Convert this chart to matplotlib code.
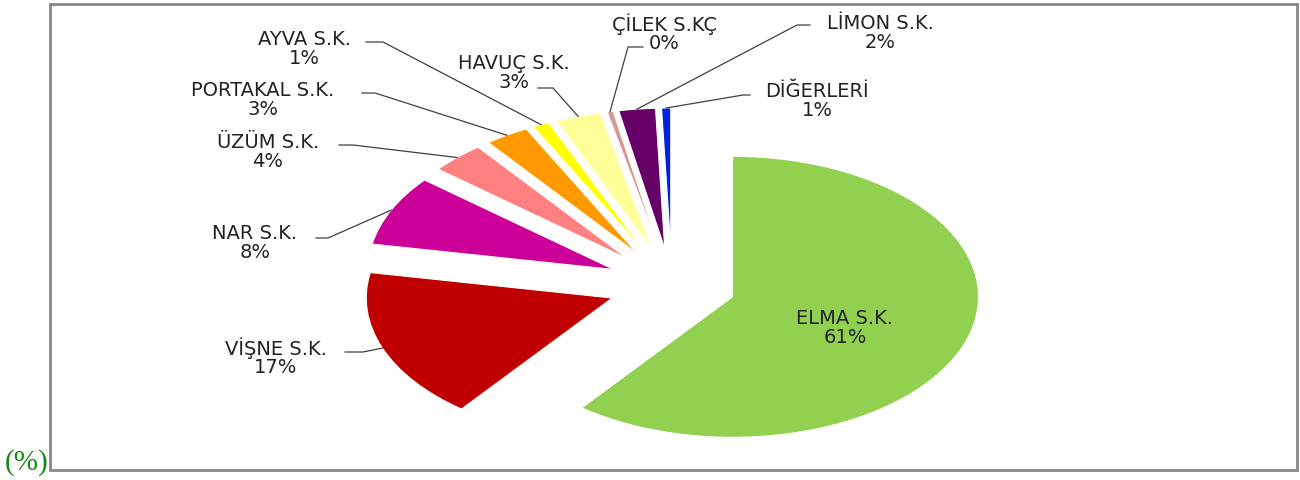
import matplotlib.pyplot as plt
from matplotlib.patches import Rectangle
import numpy as np

# data
labels = ["ELMA S.K.", "VİŞNE S.K.", "NAR S.K.", "ÜZÜM S.K.", "PORTAKAL S.K.",
          "AYVA S.K.", "HAVUÇ S.K.", "ÇİLEK S.KÇ", "LİMON S.K.", "DİĞERLERİ"]
shares = [60.5, 17.4, 8.1, 3.6, 2.9, 1.1, 3.0, 0.4, 2.4, 0.6]
pct_text = ["61%", "17%", "8%", "4%", "3%", "1%", "3%", "0%", "2%", "1%"]
colors = ["#92D050", "#C00000", "#CC0099", "#FF8080", "#FF9900",
          "#FFFF00", "#FFFF99", "#D49A9A", "#660066", "#0022DD"]

W, H = 1300, 480
# pie centre and radii in pixels (picture is stretched sideways)
CX, CY, RX, RY = 672, 285, 246, 140.5

# label layout in pixels: text centre, stub start x, stub end x, stub y
label_pos = [
    (845, 328, None, None, None),
    (276, 357, 345, 363, 352),
    (255, 243, 316, 328, 238),
    (268, 152, 339, 353, 145),
    (263, 100, 362, 375, 93),
    (304, 49, 366, 383, 42),
    (514, 73, 538, 553, 88),
    (664, 33, 643, 628, 47),
    (880, 33, 810, 797, 25),
    (817, 101, 750, 743, 95),
]


def px(x, y):
    # picture pixel -> data coords
    return (x - CX) / RX, (CY - y) / RY


fig = plt.figure(figsize=(13, 4.8), dpi=100)
ax = fig.add_axes([0, 0, 1, 1])

wedges, _ = ax.pie(shares, colors=colors, explode=[0.26] * len(shares),
                   startangle=90, counterclock=False, radius=1,
                   wedgeprops=dict(edgecolor="white", linewidth=0.8))

ax.set_xlim(-CX / RX, (W - CX) / RX)
ax.set_ylim(-(H - CY) / RY, CY / RY)
ax.set_aspect("auto")
ax.axis("off")

for w, lab, pct, pos in zip(wedges, labels, pct_text, label_pos):
    tx, ty, sx0, sx1, sy = pos
    x, y = px(tx, ty)
    ax.text(x, y, lab + "\n" + pct, ha="center", va="center", fontsize=14,
            color="#222222", linespacing=0.95, family="DejaVu Sans")
    if sx0 is None:
        continue
    mid = np.deg2rad((w.theta1 + w.theta2) / 2)
    ax_x = w.center[0] + w.r * np.cos(mid)
    ax_y = w.center[1] + w.r * np.sin(mid)
    a = px(sx0, sy)
    b = px(sx1, sy)
    ax.plot([a[0], b[0], ax_x], [a[1], b[1], ax_y], color="#404040", lw=0.9)

# chart frame
fig.add_artist(Rectangle((50 / W, 1 - 470 / H), (1297 - 50) / W, (470 - 4) / H,
                         transform=fig.transFigure, fill=False,
                         edgecolor="#888888", lw=2))

fig.text(5 / W, 1 - 470 / H, "(%)", color="#148A14", fontsize=21,
         family="Liberation Serif", va="baseline", ha="left")

fig.savefig("out.png", dpi=100)
